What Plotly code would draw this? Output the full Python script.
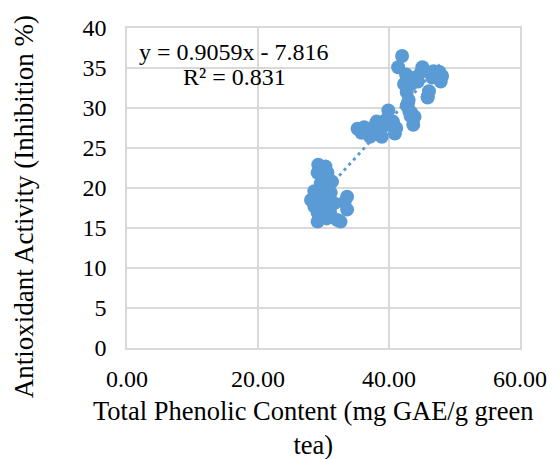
import plotly.graph_objects as go
import numpy as np

# Total Phenolic Content (mg GAE/g green tea)
tpc = [29.2, 30.3, 29.1, 30.6, 30.6, 31.3, 28.1, 28.6, 29.1, 29.1, 30.1, 30.6,
       32.1, 32.6, 33.6, 33.6, 31.6, 29.8, 29.6, 31.1, 28.6,
       29.5, 30.0, 31.0, 30.5, 29.0, 33.2,
       35.2, 36.7, 37.1, 38.1, 39.9, 39.1, 40.9, 38.9, 37.6, 38.6, 36.2,
       36.0, 37.5, 38.3, 39.5, 40.2, 35.8,
       42.9, 43.4, 43.7, 43.9, 45.9,
       42.0, 41.4, 42.6, 45.1, 43.6, 42.7, 44.4, 47.7, 47.9, 46.6, 45.9, 46.1,
       42.7, 43.1, 43.3, 40.6, 41.1, 48.1, 43.4,
       44.0, 42.3, 43.0, 46.8, 44.9]
# Antioxidant Activity (Inhibition %)
aa = [22.9, 22.7, 21.9, 21.9, 20.2, 20.8, 18.5, 19.6, 16.9, 15.8, 17.3, 18.5,
      16.0, 15.8, 18.9, 17.3, 18.1, 18.9, 20.6, 19.4, 17.7,
      19.8, 21.0, 17.0, 16.2, 18.0, 18.2,
      27.4, 27.1, 26.4, 28.3, 29.7, 27.7, 26.8, 26.4, 26.7, 28.1, 27.6,
      27.2, 27.5, 27.0, 28.5, 28.0, 26.9,
      30.6, 29.4, 27.9, 28.9, 31.3,
      36.5, 35.1, 34.2, 35.1, 33.3, 32.0, 33.3, 34.5, 33.3, 33.8, 31.4, 32.1,
      30.3, 29.6, 29.0, 28.3, 27.5, 34.0, 33.0,
      33.8, 33.0, 31.0, 34.6, 34.5]

trend_slope = 0.9059
trend_intercept = -7.816
r_squared = 0.831

x_ticks = [0, 20, 40, 60]
y_ticks = [0, 5, 10, 15, 20, 25, 30, 35, 40]

blue = "#5B9BD5"
grid = "#D9D9D9"
font_family = "Liberation Serif, Times New Roman, serif"

tx = np.array([min(tpc), max(tpc)])
ty = trend_slope * tx + trend_intercept

fig = go.Figure()
fig.add_trace(go.Scatter(x=tx, y=ty, mode="lines",
                         line=dict(color=blue, width=3, dash="3px,4px"),
                         hoverinfo="skip", showlegend=False))
fig.add_trace(go.Scatter(x=tpc, y=aa, mode="markers",
                         marker=dict(color=blue, size=14, line=dict(width=0)),
                         showlegend=False))

fig.update_layout(
    width=559, height=459,
    margin=dict(l=127, r=32, t=28, b=111, pad=0),
    paper_bgcolor="white", plot_bgcolor="white",
    font=dict(family=font_family, color="black", size=24),
    showlegend=False,
)
fig.update_xaxes(range=[0, 60], tickvals=x_ticks,
                 ticktext=[f"{v:.2f}" for v in x_ticks],
                 showgrid=True, gridcolor=grid, gridwidth=1.5,
                 showline=True, linecolor=grid, linewidth=1.5, mirror=True,
                 zeroline=False, ticks="", ticklabelstandoff=8,
                 tickfont=dict(size=24))
fig.update_yaxes(range=[0, 40], tickvals=y_ticks,
                 showgrid=True, gridcolor=grid, gridwidth=1.5,
                 showline=True, linecolor=grid, linewidth=1.5, mirror=True,
                 zeroline=False, ticks="", ticklabelstandoff=14,
                 tickfont=dict(size=24))

# axis titles
fig.add_annotation(text="Total Phenolic Content (mg GAE/g green<br>tea)",
                   xref="paper", yref="paper", x=0.474, y=-0.25,
                   xanchor="center", yanchor="middle", showarrow=False,
                   font=dict(size=26.5))
fig.add_annotation(text="Antioxidant Activity (Inhibition %)",
                   xref="paper", yref="paper", x=-0.262, y=0.44,
                   xanchor="center", yanchor="middle", showarrow=False,
                   textangle=-90, font=dict(size=27))

# trendline label
fig.add_annotation(text=f"y = {trend_slope}x - {abs(trend_intercept)}",
                   xref="paper", yref="paper", x=0.2725, y=0.925,
                   xanchor="center", yanchor="middle", showarrow=False,
                   font=dict(size=24))
fig.add_annotation(text=f"R² = {r_squared}",
                   xref="paper", yref="paper", x=0.2725, y=0.847,
                   xanchor="center", yanchor="middle", showarrow=False,
                   font=dict(size=24))

fig.write_html("out.html",
               config={"displayModeBar": False},
               post_script="document.body.style.margin='0';"
                           "document.body.style.overflow='hidden';")
